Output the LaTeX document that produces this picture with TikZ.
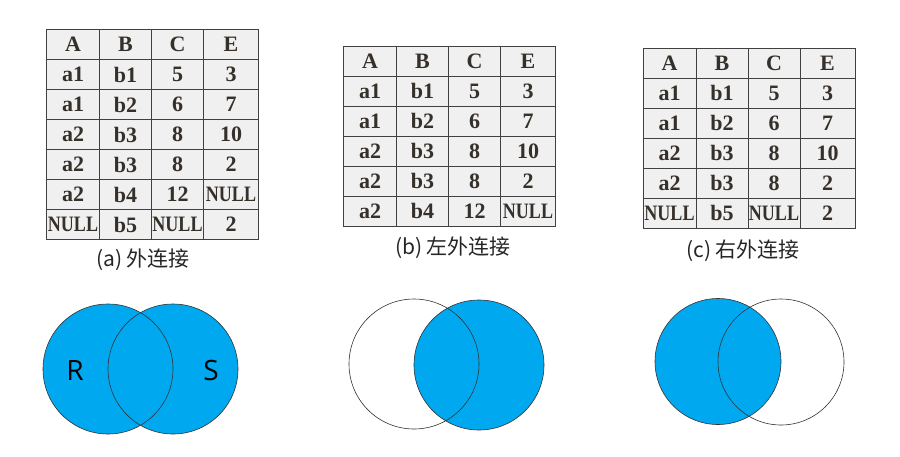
\documentclass[tikz,border=0pt]{standalone}
\usepackage{fontspec}
\setmainfont{Liberation Serif}
\newfontfamily\cjk{Noto Sans CJK SC}
\newfontfamily\osans{Open Sans}
\definecolor{vblue}{RGB}{0,168,240}
\definecolor{tline}{HTML}{404040}
\definecolor{tfill}{HTML}{F0F0F0}
\definecolor{ttext}{HTML}{35302A}
\newcommand\NL{\scalebox{0.82}[1]{NULL}}
\newcommand\drawtable[4]{%
  \foreach \row [count=\r from 0] in {#4} {
    \foreach \val [count=\c from 0] in \row {
      \pgfmathsetmacro\colx{{0,53,105,157}[\c]}
      \pgfmathsetmacro\colw{{53,52,52,55}[\c]}
      \node[cell, minimum width=\colw pt] (#1-\r-\c) at (#2+\colx, #3+\r*30) {\val};
    }
  }
}
\begin{document}
\begin{tikzpicture}[x=1pt,y=-1pt,
  cell/.style={draw=tline, line width=0.9pt, fill=tfill, inner sep=0pt, outer sep=0pt,
    anchor=north west, minimum height=30pt,
    font=\fontsize{22}{22}\selectfont\bfseries, text=ttext},
  captxt/.style={font=\cjk\fontsize{21}{21}\selectfont, text=black!85},
  venn/.style={draw=black!80, line width=0.6pt},
  lbl/.style={font=\osans\fontsize{28}{28}\selectfont, text=black}]
\fill[white] (0,0) rectangle (900,456);
\useasboundingbox (0,0) rectangle (900,456);

% tables
\drawtable{ta}{46.5}{29.5}{{A,B,C,E},{a1,b1,5,3},{a1,b2,6,7},{a2,b3,8,10},{a2,b3,8,2},{a2,b4,12,\NL},{\NL,b5,\NL,2}}
\drawtable{tb}{343.5}{46}{{A,B,C,E},{a1,b1,5,3},{a1,b2,6,7},{a2,b3,8,10},{a2,b3,8,2},{a2,b4,12,\NL}}
\drawtable{tc}{643}{48.3}{{A,B,C,E},{a1,b1,5,3},{a1,b2,6,7},{a2,b3,8,10},{a2,b3,8,2},{\NL,b5,\NL,2}}

% captions
\node[captxt] (capa) at (143,260) {(a)\,外连接};
\node[captxt] (capb) at (453,248) {(b)\,左外连接};
\node[captxt] (capc) at (743,250.5) {(c)\,右外连接};

% venn (a)
\coordinate (a1) at (108,369);
\coordinate (a2) at (173,369);
\fill[vblue] (a1) circle[radius=65];
\fill[vblue] (a2) circle[radius=65];
\draw[venn] (a1) circle[radius=65];
\draw[venn] (a2) circle[radius=65];
\node[lbl] (R) at (75,370.5) {R};
\node[lbl] (S) at (211,370.5) {S};

% venn (b)
\coordinate (b1) at (414,364);
\coordinate (b2) at (479,365);
\fill[vblue] (b2) circle[radius=65];
\draw[venn] (b1) circle[radius=65];
\draw[venn] (b2) circle[radius=65];

% venn (c)
\coordinate (c1) at (718,361.5);
\coordinate (c2) at (781,362);
\fill[vblue] (c1) circle[radius=63];
\draw[venn] (c1) circle[radius=63];
\draw[venn] (c2) circle[radius=63];
\end{tikzpicture}
\end{document}
